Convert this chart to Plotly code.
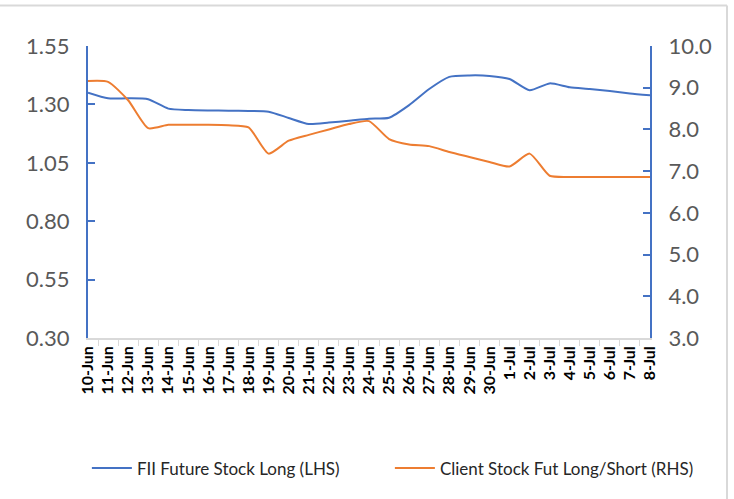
import plotly.graph_objects as go

dates = ["10-Jun", "11-Jun", "12-Jun", "13-Jun", "14-Jun", "15-Jun", "16-Jun", "17-Jun",
         "18-Jun", "19-Jun", "20-Jun", "21-Jun", "22-Jun", "23-Jun", "24-Jun", "25-Jun",
         "26-Jun", "27-Jun", "28-Jun", "29-Jun", "30-Jun", "1-Jul", "2-Jul", "3-Jul",
         "4-Jul", "5-Jul", "6-Jul", "7-Jul", "8-Jul"]

fii_future_stock_long = [1.350, 1.326, 1.326, 1.322, 1.282, 1.276, 1.274, 1.273,
                         1.272, 1.269, 1.242, 1.216, 1.222, 1.230, 1.239, 1.243,
                         1.297, 1.366, 1.418, 1.424, 1.422, 1.409, 1.361, 1.390,
                         1.373, 1.366, 1.357, 1.347, 1.339]

client_stock_fut_ls = [9.16, 9.14, 8.70, 8.03, 8.11, 8.11, 8.11, 8.10,
                       8.05, 7.42, 7.73, 7.87, 8.00, 8.13, 8.20, 7.77,
                       7.64, 7.60, 7.46, 7.34, 7.22, 7.11, 7.42, 6.89,
                       6.86, 6.86, 6.86, 6.86, 6.86]

left_ticks = [0.30, 0.55, 0.80, 1.05, 1.30, 1.55]
right_ticks = [3.0, 4.0, 5.0, 6.0, 7.0, 8.0, 9.0, 10.0]

BLUE = "#4472C4"
ORANGE = "#ED7D31"
FONT = "Lato"

fig = go.Figure()
fig.add_trace(go.Scatter(x=dates, y=fii_future_stock_long, name="FII Future Stock Long (LHS)",
                         mode="lines", line=dict(color=BLUE, width=2, shape="spline", smoothing=0.6),
                         yaxis="y"))
fig.add_trace(go.Scatter(x=dates, y=client_stock_fut_ls, name="Client Stock Fut Long/Short (RHS)",
                         mode="lines", line=dict(color=ORANGE, width=2, shape="spline", smoothing=0.6),
                         yaxis="y2"))

fig.update_layout(
    width=734, height=499,
    margin=dict(l=88, r=84, t=46, b=158),
    paper_bgcolor="white", plot_bgcolor="white",
    font=dict(family=FONT, color="#595959"),
    showlegend=True,
    legend=dict(orientation="h", x=-0.002, xanchor="left", y=-0.447, yanchor="middle",
                font=dict(size=17, color="#262626", family=FONT),
                itemwidth=40, traceorder="normal", entrywidth=248, entrywidthmode="pixels"),
    xaxis=dict(type="category", tickangle=-90, tickson="boundaries", ticks="outside",
               ticklen=6, tickcolor="#d9d9d9", showline=True, linecolor="#d9d9d9", linewidth=1.5,
               showgrid=False, zeroline=False, automargin=False,
               tickfont=dict(size=16, color="black", family=FONT, weight="bold")),
    yaxis=dict(range=[0.30, 1.55], tickvals=left_ticks, ticktext=[f"{v:.2f}" for v in left_ticks],
               showline=True, linecolor=BLUE, linewidth=2, ticks="inside", ticklen=7,
               tickcolor=BLUE, tickwidth=2, showgrid=False, zeroline=False, automargin=False,
               tickfont=dict(size=22, color="#595959"), ticklabelstandoff=12),
    yaxis2=dict(range=[3.0, 10.0], tickvals=right_ticks, ticktext=[f"{v:.1f}" for v in right_ticks],
                overlaying="y", side="right", showline=True, linecolor=BLUE, linewidth=2,
                ticks="inside", ticklen=7, tickcolor=BLUE, tickwidth=2, showgrid=False,
                automargin=False,
                zeroline=False, tickfont=dict(size=22, color="#595959"), ticklabelstandoff=12),
    shapes=[
        dict(type="line", xref="paper", yref="paper", x0=-0.2, x1=1.137, y0=1.139, y1=1.139,
             line=dict(color="#d9d9d9", width=2)),
        dict(type="line", xref="paper", yref="paper", x0=1.137, x1=1.137, y0=1.139, y1=-0.6,
             line=dict(color="#d9d9d9", width=2)),
    ],
)

fig.write_html("out.html", config={"displayModeBar": False},
               post_script="document.body.style.margin='0';")
